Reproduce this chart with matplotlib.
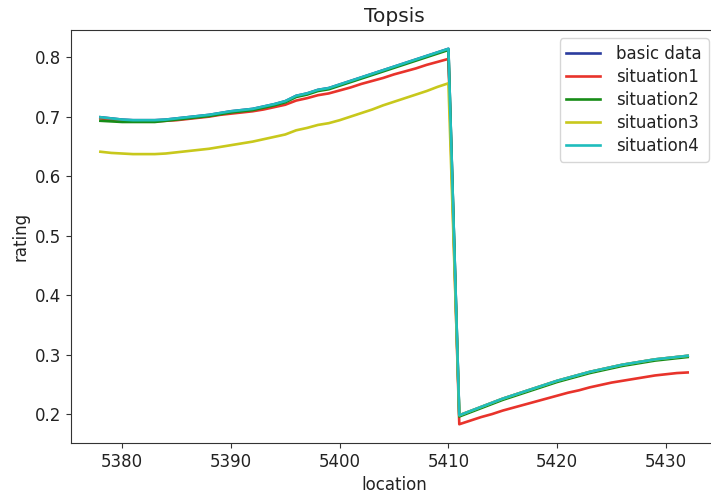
import matplotlib.pyplot as plt

location = list(range(5378, 5433))

# ratings, 5378..5432
basic_data = [0.699, 0.697, 0.695, 0.694, 0.694, 0.694, 0.695, 0.697, 0.699, 0.701,
              0.703, 0.706, 0.709, 0.711, 0.713, 0.717, 0.721, 0.726, 0.735, 0.739,
              0.745, 0.748, 0.754, 0.760, 0.766, 0.772, 0.778, 0.784, 0.790, 0.796,
              0.802, 0.808, 0.814,
              0.198, 0.205, 0.212, 0.219, 0.226, 0.232, 0.238, 0.244, 0.250, 0.256,
              0.261, 0.266, 0.271, 0.275, 0.279, 0.283, 0.286, 0.289, 0.292, 0.294,
              0.296, 0.298]
situation1 = [0.697, 0.695, 0.693, 0.692, 0.692, 0.692, 0.693, 0.694, 0.696, 0.698,
              0.700, 0.703, 0.705, 0.707, 0.709, 0.712, 0.716, 0.720, 0.727, 0.731,
              0.736, 0.739, 0.744, 0.749, 0.755, 0.760, 0.765, 0.771, 0.776, 0.781,
              0.787, 0.792, 0.797,
              0.183, 0.189, 0.195, 0.200, 0.206, 0.211, 0.216, 0.221, 0.226, 0.231,
              0.236, 0.240, 0.245, 0.249, 0.253, 0.256, 0.259, 0.262, 0.265, 0.267,
              0.269, 0.270]
situation2 = [0.693, 0.692, 0.691, 0.691, 0.691, 0.691, 0.693, 0.695, 0.697, 0.699,
              0.701, 0.704, 0.707, 0.709, 0.711, 0.715, 0.719, 0.724, 0.733, 0.737,
              0.743, 0.746, 0.752, 0.758, 0.764, 0.770, 0.776, 0.782, 0.788, 0.794,
              0.800, 0.806, 0.812,
              0.196, 0.203, 0.210, 0.217, 0.224, 0.230, 0.236, 0.242, 0.248, 0.254,
              0.259, 0.264, 0.269, 0.273, 0.277, 0.281, 0.284, 0.287, 0.290, 0.292,
              0.294, 0.296]
situation3 = [0.641, 0.639, 0.638, 0.637, 0.637, 0.637, 0.638, 0.640, 0.642, 0.644,
              0.646, 0.649, 0.652, 0.655, 0.658, 0.662, 0.666, 0.670, 0.677, 0.681,
              0.686, 0.689, 0.694, 0.700, 0.706, 0.712, 0.719, 0.725, 0.731, 0.737,
              0.743, 0.750, 0.756,
              0.198, 0.205, 0.212, 0.219, 0.226, 0.232, 0.238, 0.244, 0.250, 0.256,
              0.261, 0.266, 0.271, 0.275, 0.279, 0.283, 0.286, 0.289, 0.292, 0.294,
              0.296, 0.298]
situation4 = [0.699, 0.697, 0.695, 0.694, 0.694, 0.694, 0.695, 0.697, 0.699, 0.701,
              0.703, 0.706, 0.709, 0.711, 0.713, 0.717, 0.721, 0.726, 0.735, 0.739,
              0.745, 0.748, 0.754, 0.760, 0.766, 0.772, 0.778, 0.784, 0.790, 0.796,
              0.802, 0.808, 0.814,
              0.198, 0.205, 0.212, 0.219, 0.226, 0.232, 0.238, 0.244, 0.250, 0.256,
              0.261, 0.266, 0.271, 0.275, 0.279, 0.283, 0.286, 0.289, 0.292, 0.294,
              0.296, 0.298]

# colours a bit muted, like the blurry reference
series = [("basic data", basic_data, "#2b3c9e"),
          ("situation1", situation1, "#e8332b"),
          ("situation2", situation2, "#178c17"),
          ("situation3", situation3, "#c8c81c"),
          ("situation4", situation4, "#1fbdbd")]

fig = plt.figure(figsize=(7.11, 4.93), dpi=100)
ax = fig.add_axes([0.0999, 0.1014, 0.9086, 0.8377])

for name, vals, col in series:
    ax.plot(location, vals, color=col, lw=1.9, label=name)

for sp in ax.spines.values():
    sp.set_color("#333333")

ax.set_title("Topsis", fontsize=14.5, color="#222222")
ax.set_xlabel("location", fontsize=12, color="#222222")
ax.set_ylabel("rating", fontsize=12, color="#222222")
ax.tick_params(labelsize=12, labelcolor="#222222", color="#333333")
leg = ax.legend(fontsize=12, loc="upper right", labelspacing=0.3,
                handletextpad=1.0, borderaxespad=0.5)
for t in leg.get_texts():
    t.set_color("#222222")

fig.savefig("out.png", dpi=100)
